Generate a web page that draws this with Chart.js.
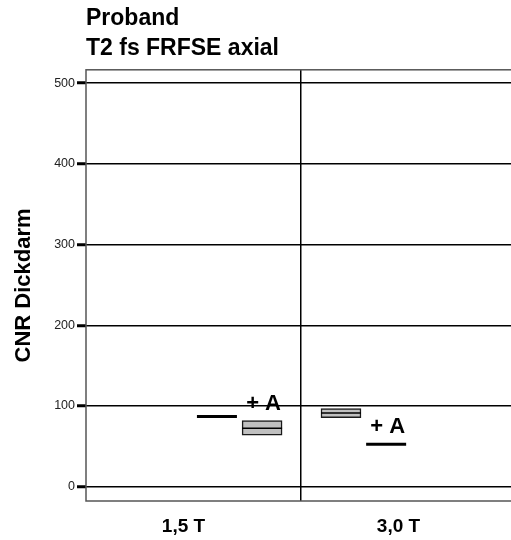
<!DOCTYPE html>
<html>
<head>
<meta charset="utf-8">
<script src="https://cdn.jsdelivr.net/npm/chart.js@4/dist/chart.umd.min.js"></script>
<style>
  html, body { margin: 0; padding: 0; overflow: hidden; background: #fff; }
  #wrap { width: 540px; height: 540px; }
</style>
</head>
<body>
<div id="wrap"><canvas id="c" width="540" height="540"></canvas></div>
<script>
// Field strengths (one panel each)
const categories = ['1,5 T', '3,0 T'];
// Series: native scan and scan with contrast agent
const seriesNames = ['nativ', '+ A'];
// CNR colon: lower quartile, median, upper quartile per field strength
const q1Native = [87, 85.5];
const medianNative = [87, 91.3];
const q3Native = [87, 96.7];
const q1Contrast = [63.7, 52.6];
const medianContrast = [72.4, 52.6];
const q3Contrast = [81.8, 52.6];
// Axis ticks and texts
const yTicks = [0, 100, 200, 300, 400, 500];
const titleLines = ['Proband', 'T2 fs FRFSE axial'];
const yTitle = 'CNR Dickdarm';

// Layout: box clusters sit close to the panel divider, boxes side by side
const clusterCenter = [0.714, 1.291];
const seriesOffset = [-0.105, 0.105];
const xPos = (ci, si) => clusterCenter[ci] + seriesOffset[si];

const FONT = "'Liberation Sans', Arial, Helvetica, sans-serif";
Chart.defaults.font.family = FONT;
Chart.defaults.color = '#000';

const series = [
  { name: seriesNames[0], q1: q1Native, med: medianNative, q3: q3Native, showName: false },
  { name: seriesNames[1], q1: q1Contrast, med: medianContrast, q3: q3Contrast, showName: true }
];

const datasets = [];
series.forEach((s, si) => {
  datasets.push({
    type: 'bar',
    label: s.name,
    showName: s.showName,
    q3: s.q3,
    data: categories.map((c, ci) => ({ x: xPos(ci, si), y: [s.q1[ci], s.q3[ci]] })),
    backgroundColor: '#c0c0c0',
    borderColor: '#1a1a1a',
    borderWidth: 1.5,
    borderSkipped: false,
    barThickness: 40,
    grouped: false,
    order: 2
  });
  datasets.push({
    type: 'scatter',
    label: s.name + ' Median',
    data: categories.map((c, ci) => ({ x: xPos(ci, si), y: s.med[ci], collapsed: s.q1[ci] === s.q3[ci] })),
    pointStyle: 'line',
    pointRadius: 20,
    pointHoverRadius: 20,
    pointBorderColor: '#000',
    pointBorderWidth: ctx => (ctx.raw && ctx.raw.collapsed ? 3 : 1.5),
    order: 1
  });
});

// Frame around the plot area
const framePlugin = {
  id: 'frame',
  beforeDatasetsDraw(chart) {
    const { ctx, chartArea: a } = chart;
    ctx.save();
    ctx.strokeStyle = '#555';
    ctx.lineWidth = 1.5;
    ctx.strokeRect(a.left, a.top, a.right - a.left, a.bottom - a.top);
    ctx.restore();
  }
};

// Series name written above the boxes of the contrast series
const seriesNamePlugin = {
  id: 'seriesName',
  afterDatasetsDraw(chart) {
    const { ctx } = chart;
    const yScale = chart.scales.y;
    ctx.save();
    ctx.font = 'bold 22px ' + FONT;
    ctx.fillStyle = '#000';
    ctx.textAlign = 'center';
    ctx.textBaseline = 'alphabetic';
    chart.data.datasets.forEach((ds, di) => {
      if (!ds.showName) return;
      const meta = chart.getDatasetMeta(di);
      meta.data.forEach((el, i) => {
        const top = yScale.getPixelForValue(ds.q3[i]);
        ctx.fillText(ds.label, el.x + 1.5, top - 11);
      });
    });
    ctx.restore();
  }
};

new Chart(document.getElementById('c'), {
  type: 'bar',
  data: { datasets },
  plugins: [framePlugin, seriesNamePlugin],
  options: {
    responsive: false,
    animation: false,
    events: [],
    layout: { padding: { left: 0, right: 24, top: 0, bottom: 0 } },
    plugins: {
      legend: { display: false },
      tooltip: { enabled: false },
      title: {
        display: true,
        text: titleLines,
        align: 'start',
        fullSize: false,
        color: '#000',
        font: { size: 23, weight: 'bold', lineHeight: 1.3 },
        padding: { top: 4, bottom: 6 }
      }
    },
    scales: {
      x: {
        type: 'linear',
        min: 0,
        max: categories.length,
        offset: false,
        afterBuildTicks: s => { s.ticks = [{ value: 0.5 }, { value: 1 }, { value: 1.5 }]; },
        afterFit: s => { s.height = 39; },
        grid: {
          offset: false,
          drawTicks: false,
          color: ctx => (ctx.tick && ctx.tick.value === 1 ? '#000' : 'rgba(0,0,0,0)'),
          lineWidth: 1.5
        },
        border: { display: false },
        ticks: {
          autoSkip: false,
          maxRotation: 0,
          padding: 14,
          labelOffset: -10,
          color: '#000',
          font: { size: 19, weight: 'bold' },
          callback: v => (v === 0.5 ? categories[0] : v === 1.5 ? categories[1] : '')
        }
      },
      y: {
        type: 'linear',
        min: -17.7,
        max: 516.5,
        afterBuildTicks: s => { s.ticks = yTicks.map(v => ({ value: v })); },
        afterFit: s => { s.width = 86; },
        grid: {
          color: '#000',
          lineWidth: 1.5,
          drawTicks: true,
          tickLength: 9,
          tickWidth: 3,
          tickColor: '#000'
        },
        border: { display: false },
        ticks: {
          padding: 2,
          color: '#222',
          font: { size: 12.5 }
        },
        title: {
          display: true,
          text: yTitle,
          color: '#000',
          font: { size: 22, weight: 'bold' },
          padding: { top: 11, bottom: 0 }
        }
      }
    }
  }
});
</script>
</body>
</html>
